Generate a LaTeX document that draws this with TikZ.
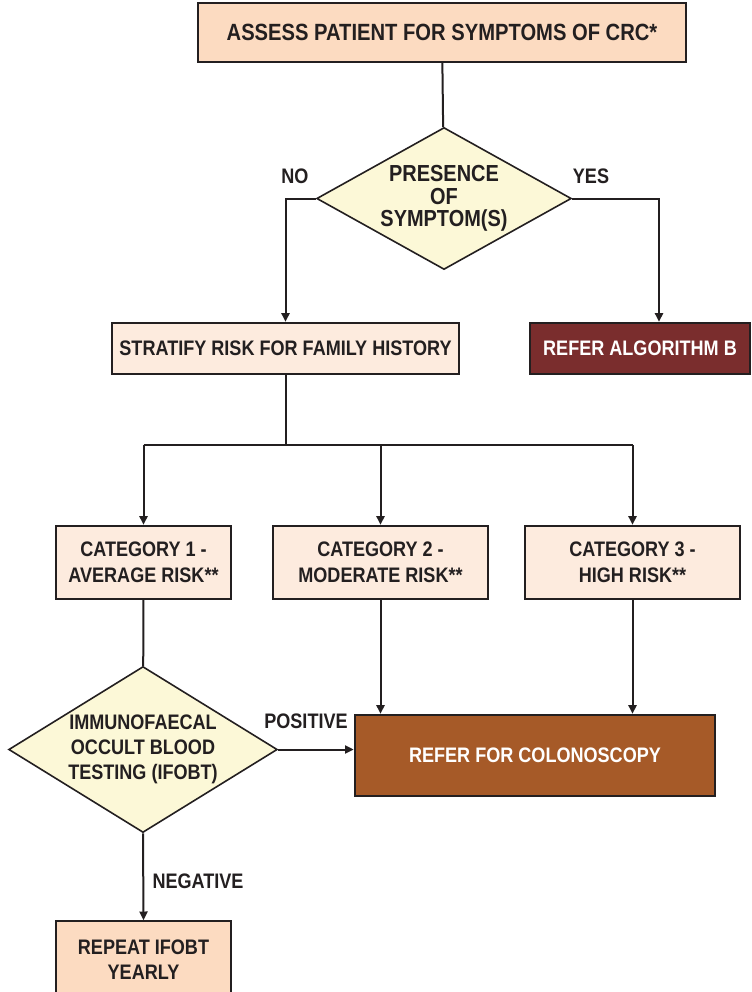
\documentclass[tikz,border=0pt]{standalone}
\usepackage{fontspec}
\setmainfont{Liberation Sans}[FakeStretch=0.86]
\usetikzlibrary{shapes.geometric,arrows.meta}

\definecolor{ink}{RGB}{35,31,32}
\definecolor{peach}{RGB}{252,219,193}
\definecolor{paleorange}{RGB}{253,235,222}
\definecolor{paleyellow}{RGB}{252,248,215}
\definecolor{maroon}{RGB}{122,45,45}
\definecolor{rust}{RGB}{166,90,40}

\tikzset{
	box/.style={draw=ink, line width=1.5pt, rectangle, align=center, inner sep=0pt, text=ink,
		font=\fontsize{15.75}{19.5}\selectfont\bfseries},
	decision/.style={draw=ink, line width=1.2pt, diamond, fill=paleyellow, align=center, inner sep=0pt,
		shape aspect=1.7, text=ink},
	flow/.style={draw=ink, line width=1.5pt, -{Triangle[length=6.5pt,width=6pt]}},
	link/.style={draw=ink, line width=1.5pt},
	answer/.style={text=ink, font=\fontsize{15.75}{19.5}\selectfont\bfseries, inner sep=0pt}
}

\begin{document}
\begin{tikzpicture}[x=0.75pt,y=0.75pt,yscale=-1,xscale=1]
\useasboundingbox (0,0) rectangle (751,992);

%Shape: Rectangle
\node (assess) at (442,32.5) [box, fill=peach, minimum width=366pt, minimum height=44.5pt,
	font=\fontsize{17.6}{21}\selectfont\bfseries] {ASSESS PATIENT FOR SYMPTOMS OF CRC*};
%Shape: Diamond
\node (presence) at (444,198.5) [decision, minimum width=191pt, minimum height=106.5pt,
	font=\fontsize{17.4}{16.9}\selectfont\bfseries] {PRESENCE\\OF\\SYMPTOM(S)};
%Shape: Rectangle
\node (stratify) at (285.5,348.5) [box, fill=paleorange, minimum width=260.5pt, minimum height=38.5pt] {STRATIFY RISK FOR FAMILY HISTORY};
\node (referB) at (640,348.5) [box, fill=maroon, text=white, minimum width=165pt, minimum height=38.5pt] {REFER ALGORITHM B};
%Shape: Rectangle
\node (cat1) at (143.5,562.5) [box, fill=paleorange, minimum width=131.5pt, minimum height=55pt] {CATEGORY 1 -\\AVERAGE RISK**};
\node (cat2) at (380.5,562.5) [box, fill=paleorange, minimum width=161.5pt, minimum height=55pt] {CATEGORY 2 -\\MODERATE RISK**};
\node (cat3) at (632.5,562.5) [box, fill=paleorange, minimum width=161.5pt, minimum height=55pt] {CATEGORY 3 -\\HIGH RISK**};
%Shape: Diamond
\node (ifobt) at (143,749.5) [decision, minimum width=201.5pt, minimum height=124.5pt,
	font=\fontsize{15.75}{18.75}\selectfont\bfseries] {IMMUNOFAECAL\\OCCULT BLOOD\\TESTING (IFOBT)};
%Shape: Rectangle
\node (colon) at (535,755.5) [box, fill=rust, text=white, minimum width=270.5pt, minimum height=61pt] {REFER FOR COLONOSCOPY};
\node (repeat) at (143.5,959.5) [box, fill=peach, minimum width=131.5pt, minimum height=57.5pt,
	font=\fontsize{15.75}{18.75}\selectfont\bfseries] {REPEAT IFOBT\\YEARLY};

%Straight Lines
\coordinate (yesturn) at (659,198.5);
\coordinate (busmid) at (285.5,445);
\draw [link] (assess) -- (presence);
\draw [flow] (presence.west) -| (stratify.north);
\draw [flow] (presence.east) -- (yesturn) -- (yesturn |- referB.north);
\draw [link] (stratify) -- (busmid);
\draw [link] (busmid -| cat1.north) -- (busmid -| cat3.north);
\draw [flow] (busmid -| cat1.north) -- (cat1.north);
\draw [flow] (busmid -| cat2.north) -- (cat2.north);
\draw [flow] (busmid -| cat3.north) -- (cat3.north);
\draw [link] (cat1) -- (ifobt);
\draw [flow] (cat2.south) -- (cat2.south |- colon.north);
\draw [flow] (cat3.south) -- (cat3.south |- colon.north);
\draw [flow] (ifobt.east) -- (ifobt.east -| colon.west);
\draw [flow] (ifobt.south) -- (repeat.north);

% Text Node
\node (no) at (295,176) [answer] {NO};
\node (yes) at (591,176) [answer] {YES};
\node (positive) at (306,721) [answer] {POSITIVE};
\node (negative) at (198,881) [answer] {NEGATIVE};

\end{tikzpicture}
\end{document}
